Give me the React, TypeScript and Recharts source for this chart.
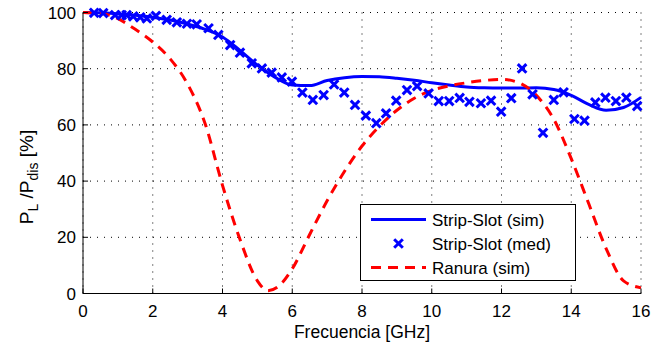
import React from "react";
import { ComposedChart, Line, Scatter, XAxis, YAxis, CartesianGrid, Legend } from "recharts";

// ticks
const freqTicks = [0, 2, 4, 6, 8, 10, 12, 14, 16];
const percentTicks = [0, 20, 40, 60, 80, 100];

// Strip-Slot (sim)
const simFreq = [0, 0.5, 1, 1.5, 2, 2.5, 3, 3.5, 4, 4.5, 5, 5.5, 6, 6.5, 7, 7.5, 8, 8.5, 9, 9.5, 10, 10.5, 11, 11.5, 12, 12.5, 13, 13.5, 14, 14.5, 15, 15.5, 16];
const stripSlotSim = [100, 99.9, 99.5, 99, 98.3, 97.3, 95.9, 94, 91.3, 86.5, 81.3, 77, 74.2, 74, 75.8, 76.8, 77.2, 77.1, 76.6, 75.9, 75, 74.2, 73.5, 73.2, 73.1, 73.1, 73.2, 72.6, 70.5, 67.3, 65.2, 66.2, 69.8];

// Strip-Slot (med)
const medFreq = [0.32, 0.58, 0.92, 1.11, 1.25, 1.44, 1.64, 1.83, 2.09, 2.4, 2.69, 2.98, 3.26, 3.6, 3.88, 4.22, 4.5, 4.84, 5.13, 5.41, 5.7, 5.99, 6.29, 6.59, 6.9, 7.2, 7.49, 7.8, 8.11, 8.41, 8.69, 8.98, 9.29, 9.58, 9.91, 10.2, 10.5, 10.8, 11.08, 11.41, 11.7, 11.99, 12.28, 12.59, 12.89, 13.19, 13.5, 13.78, 14.09, 14.38, 14.69, 14.98, 15.28, 15.58, 15.89];
const stripSlotMed = [99.9, 99.8, 99.1, 99.1, 99.1, 98.6, 98.3, 97.9, 98.8, 97.4, 96.5, 96, 95.8, 94.4, 92, 88.4, 85.7, 81.9, 80.1, 78.6, 76.9, 75.4, 71.5, 68.9, 70.6, 74.4, 71.5, 67.1, 63.3, 60.6, 64.1, 68.6, 72.4, 73.8, 71.2, 68.5, 68.5, 69.6, 68.2, 67.7, 68.6, 64.7, 69.5, 80.1, 70.9, 57.2, 68.9, 71.6, 62.1, 61.5, 68, 69.7, 68.5, 69.7, 66.7];

// Ranura (sim)
const ranuraFreq = [0, 0.5, 1, 1.5, 2, 2.5, 3, 3.5, 4, 4.5, 5, 5.3, 5.6, 6, 6.5, 7, 7.5, 8, 8.5, 9, 9.5, 10, 10.5, 11, 11.5, 12, 12.5, 13, 13.5, 14, 14.5, 15, 15.5, 16];
const ranuraSim = [100, 99.7, 97.8, 94, 89.5, 83.5, 74.5, 60.5, 38.5, 19.3, 4.5, 1, 2.5, 8.8, 21, 33, 43.5, 52.5, 59.5, 65.2, 69.5, 72.3, 73.9, 75, 75.8, 76.2, 75, 70.5, 62, 48, 32, 16, 4.5, 2];

const BLUE = "#0000ff";
const RED = "#ff0000";
const FONT = '"Liberation Sans", Arial, Helvetica, sans-serif';

const simData = simFreq.map((f, i) => ({ f, v: stripSlotSim[i] }));
const medData = medFreq.map((f, i) => ({ f, v: stripSlotMed[i] }));
const ranuraData = ranuraFreq.map((f, i) => ({ f, v: ranuraSim[i] }));

function XMark(props: any) {
  const { cx, cy } = props;
  const r = 4.3;
  return (
    <g stroke={BLUE} strokeWidth={3}>
      <line x1={cx - r} y1={cy - r} x2={cx + r} y2={cy + r} />
      <line x1={cx - r} y1={cy + r} x2={cx + r} y2={cy - r} />
    </g>
  );
}

function YLabel(props: any) {
  const { viewBox } = props;
  const x = viewBox.x + 10;
  const y = viewBox.y + viewBox.height / 2 + 24;
  return (
    <text
      x={x}
      y={y}
      transform={`rotate(-90 ${x} ${y})`}
      textAnchor="middle"
      fontFamily={FONT}
      fontSize={19}
      fill="#000"
    >
      P<tspan fontSize={14} dy={5}>L</tspan>
      <tspan dy={-5}> /P</tspan>
      <tspan fontSize={14} dy={5}>dis</tspan>
      <tspan dy={-5}> [%]</tspan>
    </text>
  );
}

const legendItems = [
  { name: "Strip-Slot (sim)", kind: "line" },
  { name: "Strip-Slot (med)", kind: "mark" },
  { name: "Ranura (sim)", kind: "dash" },
];

function LegendBox() {
  return (
    <svg width={216} height={77} style={{ display: "block" }}>
      <rect x={0.5} y={0.5} width={215} height={76} fill="#fff" stroke="#000" />
      {legendItems.map((it, i) => {
        const cy = 15.5 + i * 24;
        return (
          <g key={it.name}>
            {it.kind === "line" && <line x1={11} x2={66} y1={cy} y2={cy} stroke={BLUE} strokeWidth={3} />}
            {it.kind === "mark" && <XMark cx={38.5} cy={cy} />}
            {it.kind === "dash" && (
              <line x1={11} x2={66} y1={cy} y2={cy} stroke={RED} strokeWidth={3} strokeDasharray="10 7" />
            )}
            <text x={72} y={cy + 6} fontFamily={FONT} fontSize={17} fill="#000">
              {it.name}
            </text>
          </g>
        );
      })}
    </svg>
  );
}

const noTick = () => <g />;

export default function App() {
  const tickStyle = { fontFamily: FONT, fontSize: 17, fill: "#000" };
  return (
    <div style={{ position: "absolute", left: 0, top: 0, width: 669, height: 350, background: "#fff" }}>
      <ComposedChart width={669} height={350} margin={{ top: 12.5, right: 28, bottom: 6.5, left: 23 }}>
        <CartesianGrid stroke="#000" strokeDasharray="1 6" />
        <XAxis
          type="number"
          dataKey="f"
          domain={[0, 16]}
          ticks={freqTicks}
          height={50}
          tickSize={-5}
          tickMargin={16}
          stroke="#000"
          tick={tickStyle}
          label={{ value: "Frecuencia [GHz]", position: "insideBottom", offset: 6, style: { fontFamily: FONT, fontSize: 17.5, fill: "#000" } }}
        />
        <XAxis xAxisId="t" type="number" dataKey="f" orientation="top" domain={[0, 16]} ticks={freqTicks} height={0} tickSize={-5} stroke="#000" tick={noTick} />
        <YAxis
          type="number"
          domain={[0, 100]}
          ticks={percentTicks}
          width={60}
          tickSize={-5}
          tickMargin={12}
          stroke="#000"
          tick={tickStyle}
          label={<YLabel />}
        />
        <YAxis yAxisId="r" orientation="right" type="number" domain={[0, 100]} ticks={percentTicks} width={0} tickSize={-5} stroke="#000" tick={noTick} />
        <Line data={simData} dataKey="v" type="monotone" stroke={BLUE} strokeWidth={3} dot={false} isAnimationActive={false} />
        <Scatter data={medData} dataKey="v" shape={XMark} isAnimationActive={false} />
        <Line data={ranuraData} dataKey="v" type="monotone" stroke={RED} strokeWidth={3} strokeDasharray="10 7" dot={false} isAnimationActive={false} />
        <Legend layout="vertical" verticalAlign="middle" align="center" content={<LegendBox />} wrapperStyle={{ left: 360, top: 204, width: 216, height: 77 }} />
      </ComposedChart>
    </div>
  );
}
